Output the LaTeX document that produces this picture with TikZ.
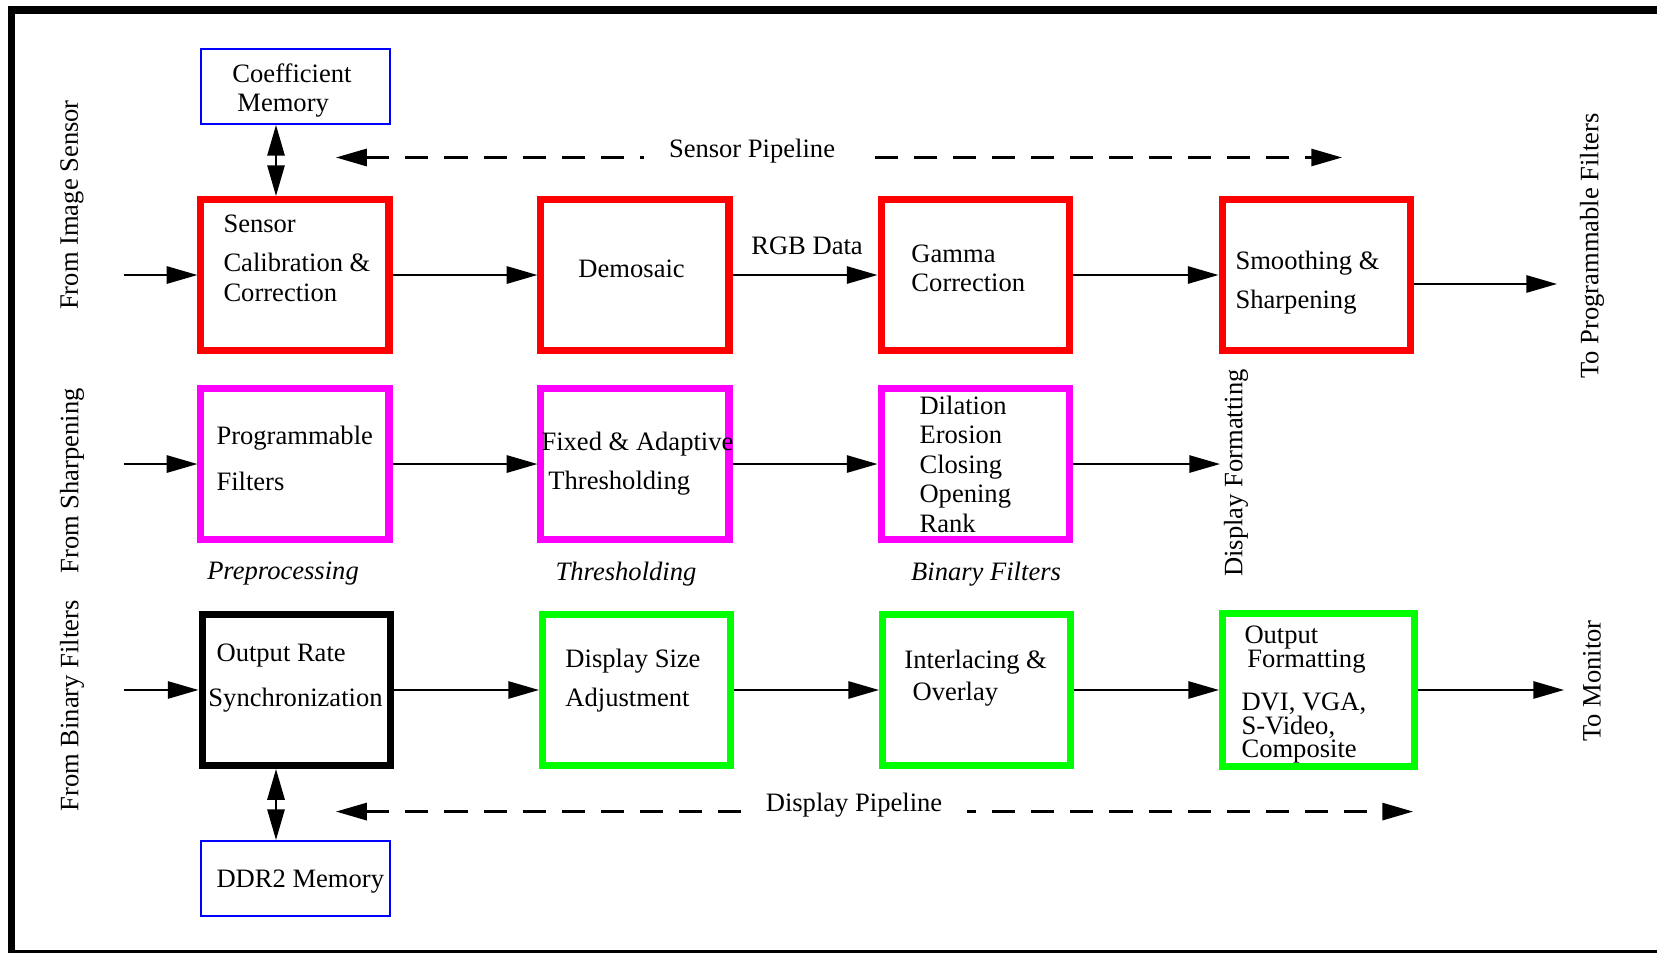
\documentclass[tikz,border=0pt]{standalone}
\usepackage{fontspec}
\setmainfont{Liberation Serif}
\usetikzlibrary{arrows.meta,calc}
\definecolor{boxmag}{RGB}{255,0,255}
\definecolor{boxgrn}{RGB}{0,255,0}
\definecolor{boxred}{RGB}{255,0,0}
\definecolor{memblue}{RGB}{0,0,255}

\tikzset{
  blk/.style={draw,line width=2.85pt,minimum width=2.686cm,minimum height=2.157cm,inner sep=0pt},
  redblk/.style={blk,draw=boxred},
  magblk/.style={blk,draw=boxmag},
  grnblk/.style={blk,draw=boxgrn},
  blkblk/.style={blk,draw=black},
  membox/.style={draw=memblue,line width=0.8pt,minimum width=2.7cm,minimum height=1.071cm,inner sep=0pt},
  txt/.style={font=\fontsize{10.8}{12}\selectfont,align=left,anchor=west,inner sep=0pt},
  lbl/.style={font=\fontsize{10.8}{12}\selectfont,inner sep=0pt},
  vlbl/.style={lbl,rotate=90},
  capt/.style={lbl,font=\fontsize{10.8}{12}\selectfont\itshape},
  arr/.style={line width=0.9pt,-{Triangle[length=12.5pt,width=7pt]}},
  dblarr/.style={line width=0.9pt,{Triangle[length=12.5pt,width=7pt]}-{Triangle[length=12.5pt,width=7pt]}},
  dasharr/.style={dblarr,dash pattern=on 9.4pt off 6.5pt},
  gaplbl/.style={lbl,fill=white,inner xsep=10pt,inner ysep=2pt}
}

\begin{document}
\begin{tikzpicture}
  \useasboundingbox (0,0) rectangle (23.671,13.6);
  \draw[line width=3.1pt] (0.164,13.457) rectangle (23.95,-0.029);

  % memories
  \node[membox] (coef) at (4.221,12.364) {};
  \node[txt] (coefT) at (3.314,12.31) {Coefficient\\\hspace*{2pt}Memory};
  \node[membox] (ddr) at (4.221,1.05) {};
  \node[txt] (ddrT) at (3.086,1.0) {DDR2 Memory};

  % sensor pipeline
  \node[redblk] (sens) at (4.214,9.671) {};
  \node[redblk] (demo) at (9.071,9.671) {};
  \node[redblk] (gamma) at (13.929,9.671) {};
  \node[redblk] (smooth) at (18.8,9.671) {};
  \node[txt] (sensT) at (3.186,9.911) {Sensor\\[3.9pt]Calibration \&\\Correction};
  \node[txt] (demoT) at (8.257,9.753) {Demosaic};
  \node[txt] (gammaT) at (13.014,9.767) {Gamma\\Correction};
  \node[txt] (smoothT) at (17.643,9.563) {Smoothing \&\\[3.9pt]Sharpening};

  % programmable filters
  \node[magblk] (prog) at (4.214,6.971) {};
  \node[magblk] (fixed) at (9.071,6.971) {};
  \node[magblk] (dil) at (13.929,6.971) {};
  \node[txt] (progT) at (3.086,7.057) {Programmable\\[6.7pt]Filters};
  \node[txt] (fixedT) at (7.729,6.977) {Fixed \& Adaptive\\[3.9pt]\hspace*{2.8pt}Thresholding};
  \node[txt] (dilT) at (13.129,6.971) {Dilation\\Erosion\\Closing\\Opening\\Rank};

  % display pipeline
  \node[blkblk] (ors) at (4.229,3.743) {};
  \node[grnblk] (dsa) at (9.093,3.743) {};
  \node[grnblk] (inter) at (13.95,3.743) {};
  \node[grnblk,minimum width=2.743cm,minimum height=2.186cm] (of) at (18.836,3.743) {};
  \node[txt] (orsT) at (2.971,3.917) {\hspace*{3.3pt}Output Rate\\[6.1pt]Synchronization};
  \node[txt] (dsaT) at (8.071,3.874) {Display Size\\[3.7pt]Adjustment};
  \node[txt] (interT) at (12.914,3.917) {Interlacing \&\\[1pt]\hspace*{3.3pt}Overlay};
  \node[txt] (ofT) at (17.729,3.677) {\hspace*{1.2pt}Output\\[-2.2pt]\hspace*{2.4pt}Formatting\\[5.1pt]DVI, VGA,\\[-2.2pt]S-Video,\\[-2.6pt]Composite};

  % captions
  \node[capt] (preC) at (4.043,5.4) {Preprocessing};
  \node[capt] (thrC) at (8.943,5.4) {Thresholding};
  \node[capt] (binC) at (14.086,5.4) {Binary Filters};
  \node[lbl] (rgb) at (11.529,10.094) {RGB Data};

  % side labels
  \node[vlbl] (fromA) at (1.029,10.671) {From Image Sensor};
  \node[vlbl] (fromB) at (1.029,6.729) {From Sharpening};
  \node[vlbl] (fromC) at (1.029,3.514) {From Binary Filters};
  \node[vlbl] (toA) at (22.743,10.086) {To Programmable Filters};
  \node[vlbl] (toC) at (22.743,3.871) {To Monitor};
  \node[vlbl] (dispF) at (17.657,6.843) {Display Formatting};

  % row connectors
  \coordinate (inA) at (1.771,9.671);
  \coordinate (inB) at (1.771,6.971);
  \coordinate (inC) at (1.771,3.743);
  \coordinate (outA) at (22.243,9.543);
  \coordinate (outB) at (17.429,6.971);
  \coordinate (outC) at (22.343,3.743);
  \draw[arr] (inA) -- (sens);
  \draw[arr] (sens) -- (demo);
  \draw[arr] (demo) -- (gamma);
  \draw[arr] (gamma) -- (smooth);
  \draw[arr] (smooth.east |- outA) -- (outA);
  \draw[arr] (inB) -- (prog);
  \draw[arr] (prog) -- (fixed);
  \draw[arr] (fixed) -- (dil);
  \draw[arr] (dil) -- (outB);
  \draw[arr] (inC) -- (ors);
  \draw[arr] (ors) -- (dsa);
  \draw[arr] (dsa) -- (inter);
  \draw[arr] (inter) -- (of);
  \draw[arr] (of) -- (outC);

  % memory links
  \coordinate (mx) at (3.943,0);
  \draw[dblarr] (mx |- coef.south) -- (mx |- sens.north);
  \draw[dblarr] (mx |- ors.south) -- (mx |- ddr.north);

  % pipeline spans
  \coordinate (spL) at (4.8,11.35);
  \coordinate (spR) at (19.171,11.35);
  \draw[dasharr] (spL) -- (spR);
  \node[gaplbl] (spT) at (10.743,11.441) {Sensor Pipeline};
  \coordinate (dpL) at (4.8,2.006);
  \coordinate (dpR) at (20.186,2.006);
  \draw[dasharr] (dpL) -- (dpR);
  \node[gaplbl] (dpT) at (12.2,2.099) {Display Pipeline};
\end{tikzpicture}
\end{document}
